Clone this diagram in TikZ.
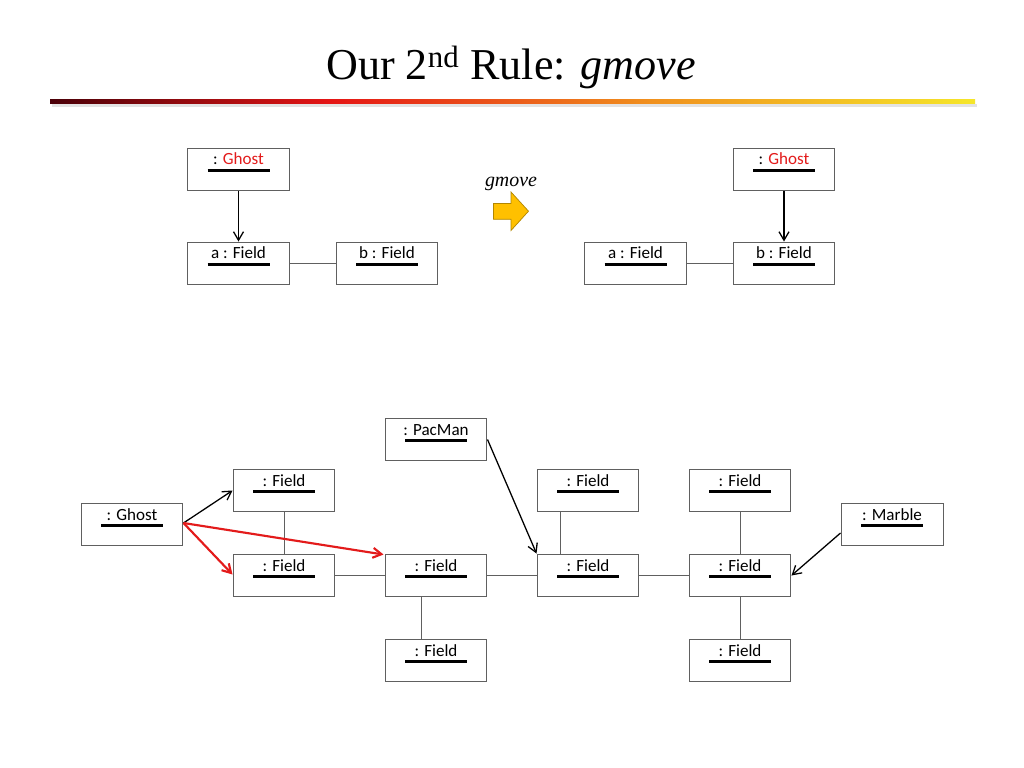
\documentclass[tikz,border=0pt]{standalone}
\usepackage{fontspec}
\setmainfont{Liberation Serif}
\newfontfamily\calfont{Carlito}
\usetikzlibrary{calc,arrows.meta}
\definecolor{ghostred}{HTML}{E31B1B}
\definecolor{boxgray}{HTML}{606060}
\definecolor{gA}{HTML}{4A0008}
\definecolor{gB}{HTML}{E51515}
\definecolor{gC}{HTML}{F0901E}
\definecolor{gD}{HTML}{F5E62A}
\definecolor{arrowfill}{HTML}{FFC000}
\tikzset{
  objbox/.style={draw=boxgray, line width=0.7pt, minimum width=71.7pt, minimum height=30.2pt, inner sep=0pt},
  lbl/.style={font=\calfont\fontsize{12}{14}\selectfont, inner sep=0pt, anchor=base},
  uline/.style={line width=1.6pt, black},
  link/.style={draw=boxgray, line width=0.6pt},
  arr/.style={draw=black, line width=0.9pt, -{Straight Barb[length=6pt,width=7pt]}},
  redarr/.style={draw=ghostred, line width=1.5pt, -{Straight Barb[length=6pt,width=7pt]}},
}
\newcommand\objnode[4]{%
  \node[objbox] (#1) at (#2,#3) {};
  \node[lbl] (#1-t) at ($(#1.center)+(0,-4.5)$) {#4};
  \draw[uline] ($(#1.center)+(-31,1)$) -- ($(#1.center)+(31,1)$);
}
\begin{document}
\begin{tikzpicture}[x=0.703125pt,y=-0.703125pt]
\useasboundingbox[fill=white] (0,0) rectangle (1024,768);
% title
\node[font=\fontsize{31}{37}\selectfont, inner sep=0pt, anchor=base] (title) at (511,80) {Our 2\textsuperscript{nd} Rule: \textit{gmove}};
% gradient rule
\fill[gray!22] (52,104) rectangle (977,107);
\shade[left color=gA, right color=gB] (50,100) rectangle (330,104);
\shade[left color=gB, right color=gC] (330,100) rectangle (650,104);
\shade[left color=gC, right color=gD] (650,100) rectangle (975,104);
% top rule diagram
\objnode{g1}{238.5}{169.5}{: \textcolor{ghostred}{Ghost}}
\objnode{a1}{238.5}{263.5}{a : Field}
\objnode{b1}{387}{263.5}{b : Field}
\objnode{g2}{784}{169.5}{: \textcolor{ghostred}{Ghost}}
\objnode{a2}{635.5}{263.5}{a : Field}
\objnode{b2}{784}{263.5}{b : Field}
\draw[arr] (g1.south) -- (a1.north);
\draw[link] (a1.east) -- (b1.west);
\draw[arr] (g2.south) -- (b2.north);
\draw[link] (a2.east) -- (b2.west);
% gmove arrow
\node[font=\itshape\fontsize{14}{16}\selectfont, inner sep=0pt, anchor=base] (gm) at (511,186.5) {gmove};
\filldraw[fill=arrowfill, draw=arrowfill!70!black, line width=0.5pt]
  (493.5,203.5) -- (511,203.5) -- (511,192) -- (528.5,211.2) -- (511,230.5) -- (511,219.3) -- (493.5,219.3) -- cycle;
% bottom diagram
\objnode{pm}{436}{439.5}{: PacMan}
\objnode{f1}{284}{490.5}{: Field}
\objnode{gh}{132}{524.5}{: Ghost}
\objnode{f2}{284}{575.5}{: Field}
\objnode{f3}{436}{575.5}{: Field}
\objnode{f4}{436}{660.5}{: Field}
\objnode{f5}{588}{490.5}{: Field}
\objnode{f6}{588}{575.5}{: Field}
\objnode{f7}{740}{490.5}{: Field}
\objnode{f8}{740}{575.5}{: Field}
\objnode{f9}{740}{660.5}{: Field}
\objnode{mb}{892}{524.5}{: Marble}
\draw[link] (f1.south) -- (f2.north);
\draw[link] (f2.east) -- (f3.west);
\draw[link] ($(f3.south)+(-15,0)$) -- ($(f4.north)+(-15,0)$);
\draw[link] ($(f5.south)+(-28,0)$) -- ($(f6.north)+(-28,0)$);
\draw[link] (f3.east) -- (f6.west);
\draw[link] (f6.east) -- (f8.west);
\draw[link] (f7.south) -- (f8.north);
\draw[link] (f8.south) -- (f9.north);
\draw[arr] ($(gh.east)+(0,-1.5)$) -- (f1.west);
\draw[redarr] ($(gh.east)+(0,-1.5)$) -- ($(f2.west)+(0,-1)$);
\draw[redarr] ($(gh.east)+(0,-1.5)$) -- ($(f3.north west)+(-1,1)$);
\draw[arr] (pm.east) -- (f6.north west);
\draw[arr] ($(mb.west)+(0,8.5)$) -- (f8.east);
\end{tikzpicture}
\end{document}
